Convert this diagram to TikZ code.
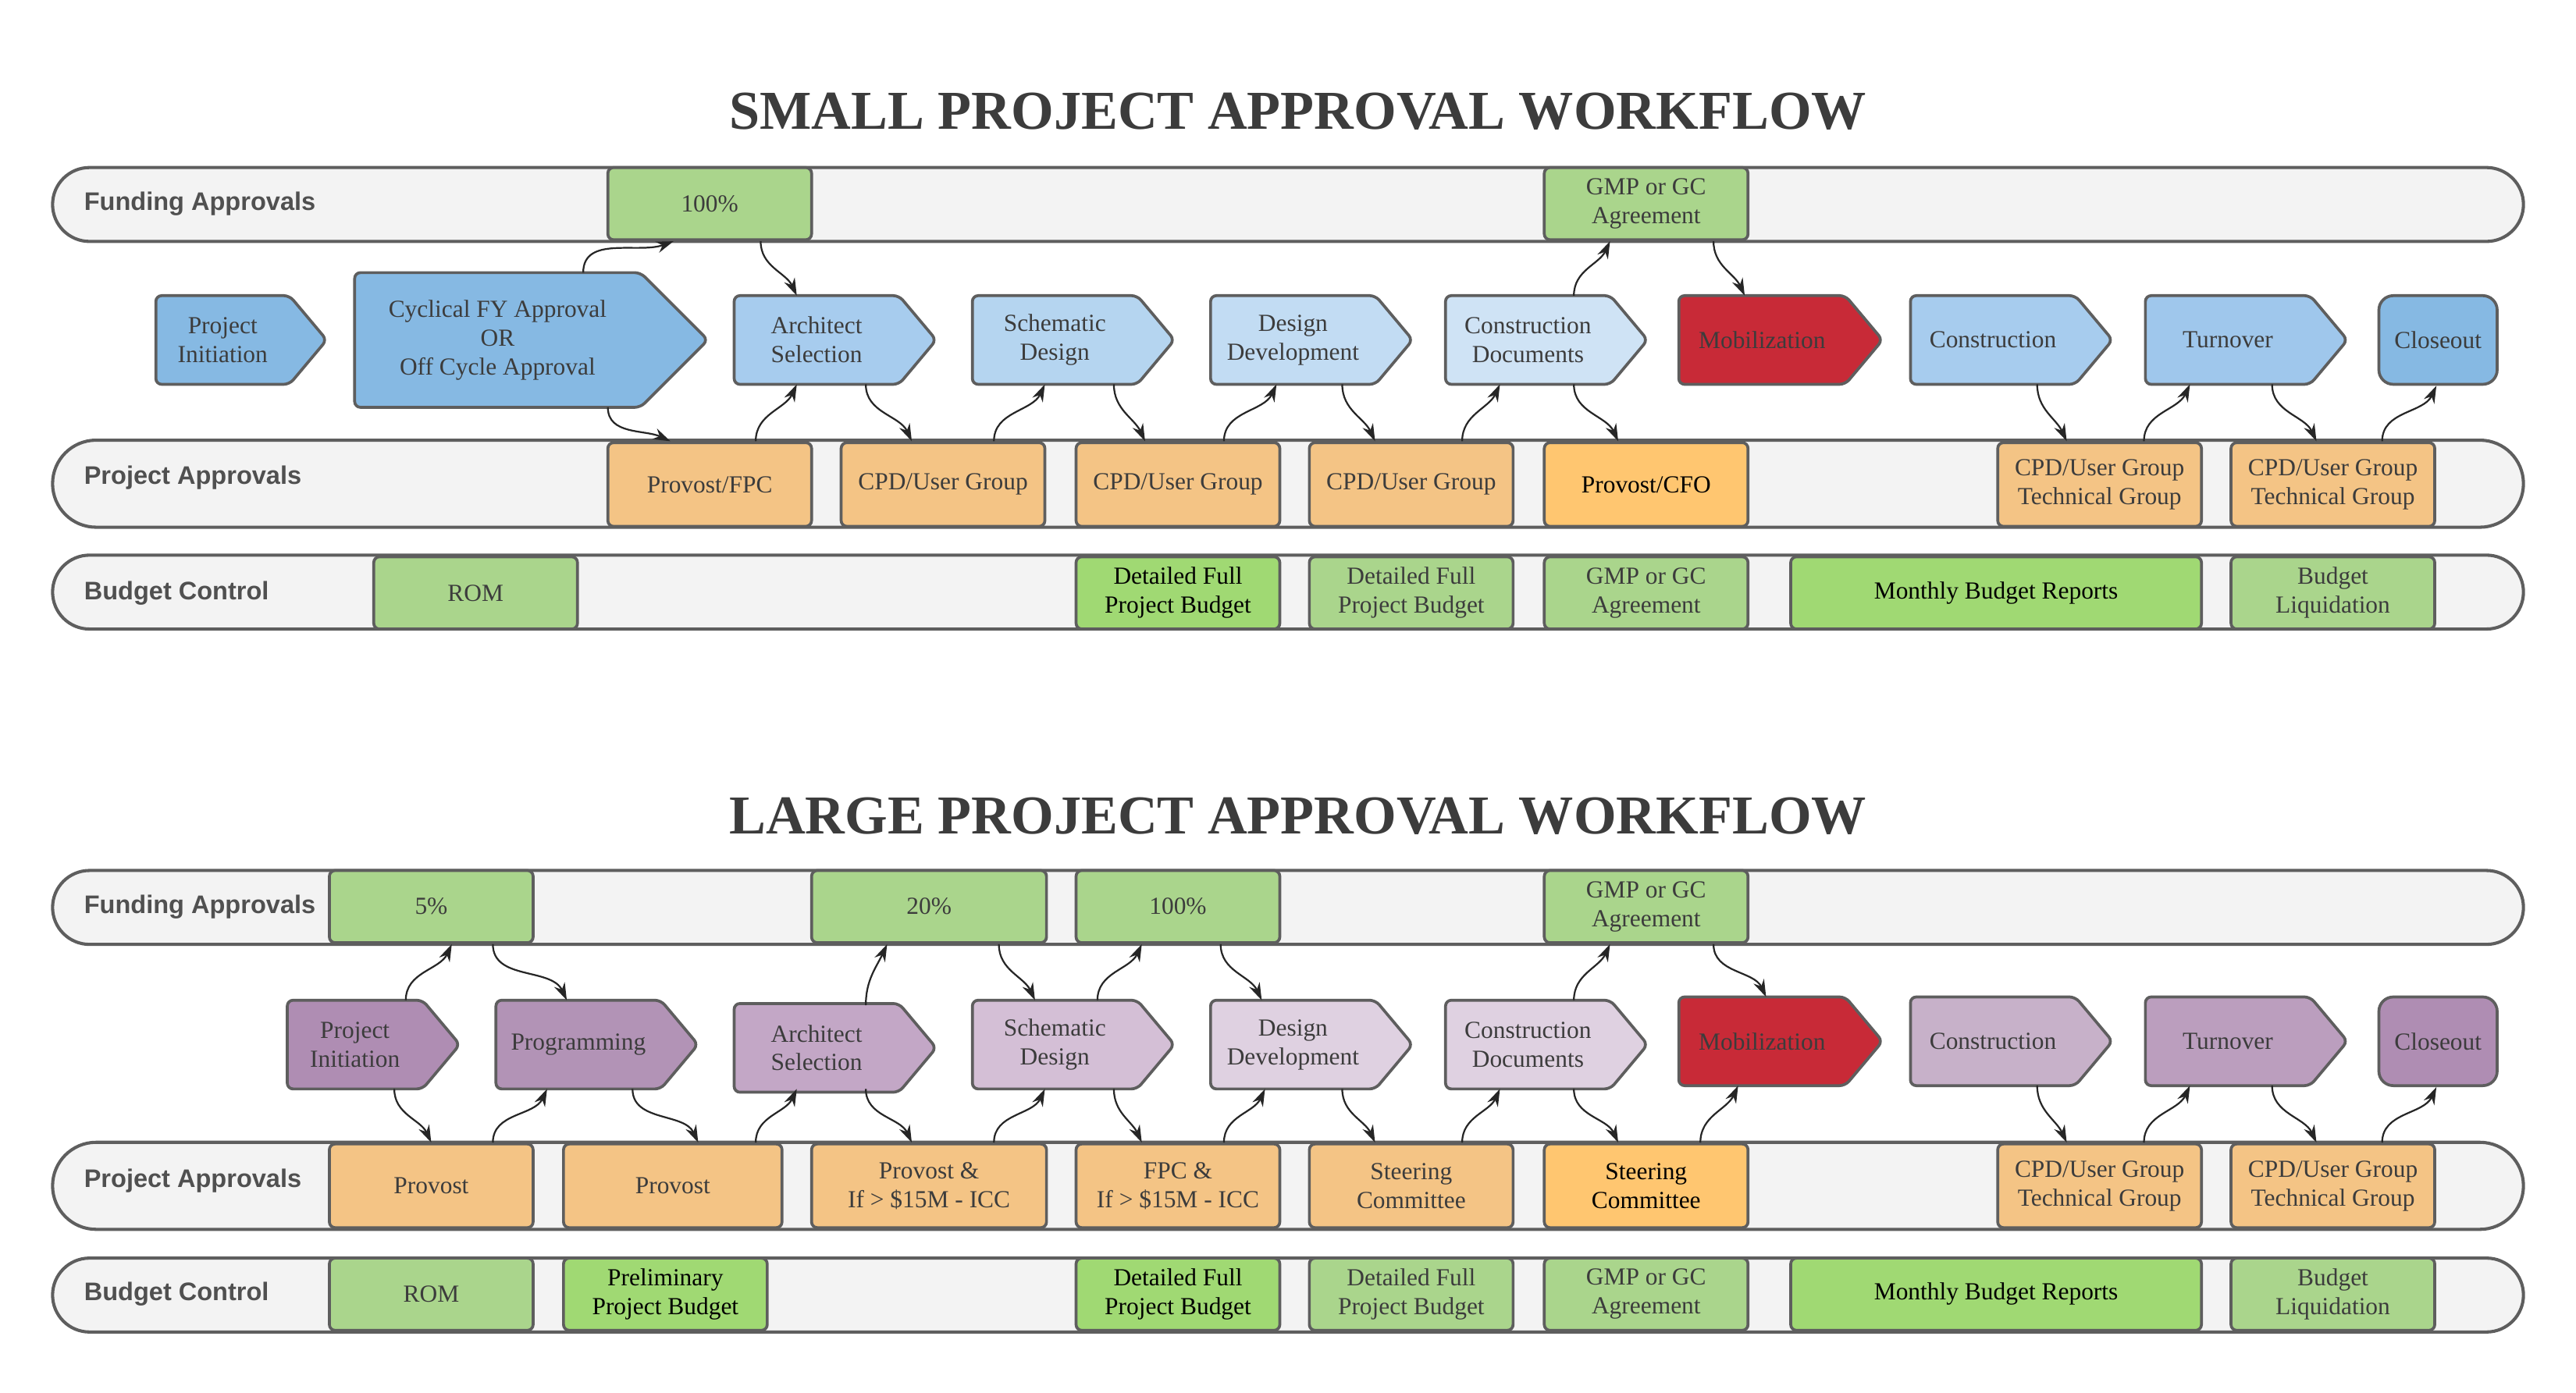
\documentclass[tikz,border=0pt]{standalone}
\usepackage{fontspec}
\setmainfont{Liberation Serif}
\setsansfont{Liberation Sans}
\usetikzlibrary{shapes.symbols,shapes.misc,calc,arrows.meta}
\definecolor{laneFill}{HTML}{F3F3F3}
\definecolor{edgeGray}{HTML}{5E5E5E}
\definecolor{txtGray}{HTML}{3C3C3C}
\definecolor{grnBox}{HTML}{AAD58C}
\definecolor{grnHot}{HTML}{A0D973}
\definecolor{orgBox}{HTML}{F4C485}
\definecolor{orgHot}{HTML}{FFC670}
\definecolor{redStep}{HTML}{C82A37}
\definecolor{blA}{HTML}{86B9E3}
\definecolor{blB}{HTML}{A7CCEE}
\definecolor{blC}{HTML}{B5D5F0}
\definecolor{blD}{HTML}{C2DCF3}
\definecolor{blE}{HTML}{CFE3F5}
\definecolor{blF}{HTML}{9FC7EC}
\definecolor{puA}{HTML}{AF8DB3}
\definecolor{puB}{HTML}{B293B6}
\definecolor{puC}{HTML}{C3A7C6}
\definecolor{puD}{HTML}{D4BFD6}
\definecolor{puE}{HTML}{DFD1E1}
\definecolor{puF}{HTML}{C7B1C9}
\definecolor{puG}{HTML}{BB9EBE}
\tikzset{lane/.style={rounded rectangle,draw=edgeGray,fill=laneFill,line width=1.1pt,minimum width=1504*0.02cm,inner sep=0pt}}
\tikzset{lanelbl/.style={anchor=west,font=\sffamily\bfseries\fontsize{8.8}{10}\selectfont,text=txtGray!90}}
\tikzset{box/.style={rectangle,rounded corners=2pt,draw=edgeGray,line width=1pt,minimum width=124*0.02cm,inner sep=1pt,align=center,font=\fontsize{8.5}{10}\selectfont,text=txtGray}}
\tikzset{fund/.style={box,fill=grnBox,minimum height=44*0.02cm}}
\tikzset{appr/.style={box,fill=orgBox,minimum height=51*0.02cm}}
\tikzset{budg/.style={box,fill=grnBox,minimum height=44*0.02cm}}
\tikzset{hot/.style={text=black}}
\tikzset{phase/.style={signal,signal to=east,signal pointer angle=100,anchor=west,draw=edgeGray,line width=1pt,rounded corners=2pt,minimum height=54*0.02cm,inner sep=1pt,align=center,font=\fontsize{8.5}{10}\selectfont,text=txtGray}}
\tikzset{endphase/.style={rectangle,rounded corners=5pt,draw=edgeGray,line width=1pt,minimum width=72*0.02cm,minimum height=54*0.02cm,inner sep=1pt,font=\fontsize{8.5}{10}\selectfont,text=txtGray}}
\tikzset{title/.style={font=\fontsize{19}{22}\selectfont\bfseries,text=txtGray}}
\tikzset{up/.style={-{Stealth[length=6pt,width=4pt]},semithick,black!85,out=90,in=-115}}
\tikzset{dn/.style={-{Stealth[length=6pt,width=4pt]},semithick,black!85,out=-90,in=115}}

\begin{document}
\begin{tikzpicture}[x=0.02cm,y=-0.02cm]
	\useasboundingbox (0,0) rectangle (1568,848);

	% small project workflow
	\node [title] (stitle) at (790,68) {SMALL PROJECT APPROVAL WORKFLOW};
	\node [lane,minimum height=45*0.02cm] (sfundlane) at (784,124.5) {};
	\node [lane,minimum height=53*0.02cm] (sapprlane) at (784,294.5) {};
	\node [lane,minimum height=45*0.02cm] (sbudglane) at (784,360.5) {};
	\node [lanelbl] (sfundlbl) at (45,124) {Funding Approvals};
	\node [lanelbl] (sapprlbl) at (45,291) {Project Approvals};
	\node [lanelbl] (sbudglbl) at (45,361) {Budget Control};

	\node [fund] (s100) at (432,124) {100\%};
	\node [fund] (sgmp) at (1002,124) {GMP or GC\\Agreement};

	\node [appr] (sprov) at (432,295) {Provost/FPC};
	\node [appr] (scpdA) at (574,295) {CPD/User Group};
	\node [appr] (scpdB) at (717,295) {CPD/User Group};
	\node [appr] (scpdC) at (859,295) {CPD/User Group};
	\node [appr,hot,fill=orgHot] (scfo) at (1002,295) {Provost/CFO};
	\node [appr] (stechA) at (1278,295) {CPD/User Group\\Technical Group};
	\node [appr] (stechB) at (1420,295) {CPD/User Group\\Technical Group};

	\node [budg] (srom) at (289.5,361) {ROM};
	\node [budg,hot,fill=grnHot] (sdetA) at (717,361) {Detailed Full\\Project Budget};
	\node [budg] (sdetB) at (859,361) {Detailed Full\\Project Budget};
	\node [budg] (sgmpb) at (1002,361) {GMP or GC\\Agreement};
	\node [budg,hot,fill=grnHot,minimum width=250*0.02cm] (smon) at (1215,361) {Monthly Budget Reports};
	\node [budg] (sliq) at (1420,361) {Budget\\Liquidation};

	\node [phase,fill=blA,minimum width=104*0.02cm] (sinit) at (94,207) {Project\\Initiation};
	\node [phase,fill=blA,minimum width=215*0.02cm,minimum height=82*0.02cm,signal pointer angle=90] (scyc) at (215,207) {Cyclical FY Approval\\OR\\Off Cycle Approval};
	\node [phase,fill=blB,minimum width=123*0.02cm] (sarch) at (446,207) {Architect\\Selection};
	\node [phase,fill=blC,minimum width=123*0.02cm] (sschem) at (591,207) {Schematic\\Design};
	\node [phase,fill=blD,minimum width=123*0.02cm] (sdd) at (736,207) {Design\\Development};
	\node [phase,fill=blE,minimum width=123*0.02cm] (scd) at (879,207) {Construction\\Documents};
	\node [phase,fill=redStep,minimum width=124*0.02cm] (smob) at (1021,207) {Mobilization};
	\node [phase,fill=blB,minimum width=123*0.02cm] (scon) at (1162,207) {Construction};
	\node [phase,fill=blF,minimum width=123*0.02cm] (sturn) at (1305,207) {Turnover};
	\node [endphase,fill=blA] (sclose) at (1484,207) {Closeout};

	\draw [up,in=200] ($(scyc.west)+(140,-41)$) to ($(s100.south)+(-22,0)$);
	\draw [dn] ($(s100.south)+(31,0)$) to ($(sarch.west)+(39,-27)$);
	\draw [dn,in=155] ($(scyc.west)+(155,41)$) to ($(sprov.north)+(-24,0)$);
	\draw [up] ($(sprov.north)+(28,0)$) to ($(sarch.west)+(39,27)$);
	\draw [dn] ($(sarch.west)+(81,27)$) to ($(scpdA.north)+(-19,0)$);
	\draw [up] ($(scpdA.north)+(31,0)$) to ($(sschem.west)+(45,27)$);
	\draw [dn] ($(sschem.west)+(87,27)$) to ($(scpdB.north)+(-20,0)$);
	\draw [up] ($(scpdB.north)+(28,0)$) to ($(sdd.west)+(41,27)$);
	\draw [dn] ($(sdd.west)+(81,27)$) to ($(scpdC.north)+(-22,0)$);
	\draw [up] ($(scpdC.north)+(31,0)$) to ($(scd.west)+(34,27)$);
	\draw [dn] ($(scd.west)+(79,27)$) to ($(scfo.north)+(-17,0)$);
	\draw [up] ($(scd.west)+(79,-27)$) to ($(sgmp.south)+(-22,0)$);
	\draw [dn] ($(sgmp.south)+(41,0)$) to ($(smob.west)+(41,-27)$);
	\draw [dn] ($(scon.west)+(78,27)$) to ($(stechA.north)+(-20,0)$);
	\draw [up] ($(stechA.north)+(27,0)$) to ($(sturn.west)+(28,27)$);
	\draw [dn] ($(sturn.west)+(78,27)$) to ($(stechB.north)+(-10,0)$);
	\draw [up] ($(stechB.north)+(30,0)$) to ($(sclose.south)+(-1,0)$);

	% large project workflow
	\node [title] (ltitle) at (790,497) {LARGE PROJECT APPROVAL WORKFLOW};
	\node [lane,minimum height=45*0.02cm] (lfundlane) at (784,552.5) {};
	\node [lane,minimum height=53*0.02cm] (lapprlane) at (784,722) {};
	\node [lane,minimum height=45*0.02cm] (lbudglane) at (784,788.5) {};
	\node [lanelbl] (lfundlbl) at (45,552) {Funding Approvals};
	\node [lanelbl] (lapprlbl) at (45,719) {Project Approvals};
	\node [lanelbl] (lbudglbl) at (45,788) {Budget Control};

	\node [fund] (l5) at (262.5,552) {5\%};
	\node [fund,minimum width=143*0.02cm] (l20) at (565.5,552) {20\%};
	\node [fund] (l100) at (717,552) {100\%};
	\node [fund] (lgmp) at (1002,552) {GMP or GC\\Agreement};

	\node [appr] (lprovA) at (262.5,722) {Provost};
	\node [appr,minimum width=133*0.02cm] (lprovB) at (409.5,722) {Provost};
	\node [appr,minimum width=143*0.02cm] (lpicc) at (565.5,722) {Provost \&\\If > \$15M - ICC};
	\node [appr] (lfpc) at (717,722) {FPC \&\\If > \$15M - ICC};
	\node [appr] (lsteerA) at (859,722) {Steering\\Committee};
	\node [appr,hot,fill=orgHot] (lsteerB) at (1002,722) {Steering\\Committee};
	\node [appr] (ltechA) at (1278,722) {CPD/User Group\\Technical Group};
	\node [appr] (ltechB) at (1420,722) {CPD/User Group\\Technical Group};

	\node [budg] (lrom) at (262.5,788) {ROM};
	\node [budg,hot,fill=grnHot] (lprel) at (405,788) {Preliminary\\Project Budget};
	\node [budg,hot,fill=grnHot] (ldetA) at (717,788) {Detailed Full\\Project Budget};
	\node [budg] (ldetB) at (859,788) {Detailed Full\\Project Budget};
	\node [budg] (lgmpb) at (1002,788) {GMP or GC\\Agreement};
	\node [budg,hot,fill=grnHot,minimum width=250*0.02cm] (lmon) at (1215,788) {Monthly Budget Reports};
	\node [budg] (lliq) at (1420,788) {Budget\\Liquidation};

	\node [phase,fill=puA,minimum width=105*0.02cm] (linit) at (174,636) {Project\\Initiation};
	\node [phase,fill=puB,minimum width=123*0.02cm] (lprog) at (301,636) {Programming};
	\node [phase,fill=puC,minimum width=123*0.02cm] (larch) at (446,638) {Architect\\Selection};
	\node [phase,fill=puD,minimum width=123*0.02cm] (lschem) at (591,636) {Schematic\\Design};
	\node [phase,fill=puE,minimum width=123*0.02cm] (ldd) at (736,636) {Design\\Development};
	\node [phase,fill=puE,minimum width=123*0.02cm] (lcd) at (879,636) {Construction\\Documents};
	\node [phase,fill=redStep,minimum width=124*0.02cm] (lmob) at (1021,634) {Mobilization};
	\node [phase,fill=puF,minimum width=123*0.02cm] (lcon) at (1162,634) {Construction};
	\node [phase,fill=puG,minimum width=123*0.02cm] (lturn) at (1305,634) {Turnover};
	\node [endphase,fill=puA] (lclose) at (1484,634) {Closeout};

	\draw [up] ($(linit.west)+(73,-27)$) to ($(l5.south)+(12.5,0)$);
	\draw [dn] ($(l5.south)+(37.5,0)$) to ($(lprog.west)+(44,-27)$);
	\draw [dn] ($(linit.west)+(66,27)$) to ($(lprovA.north)+(0,0)$);
	\draw [up] ($(lprovA.north)+(37.5,0)$) to ($(lprog.west)+(32,27)$);
	\draw [dn] ($(lprog.west)+(84,27)$) to ($(lprovB.north)+(15.5,0)$);
	\draw [up] ($(lprovB.north)+(50.5,0)$) to ($(larch.west)+(39,25)$);
	\draw [up] ($(larch.west)+(81,-26)$) to ($(l20.south)+(-25.5,0)$);
	\draw [dn] ($(l20.south)+(42.5,0)$) to ($(lschem.west)+(39,-27)$);
	\draw [dn] ($(larch.west)+(81,25)$) to ($(lpicc.north)+(-10.5,0)$);
	\draw [up] ($(lpicc.north)+(39.5,0)$) to ($(lschem.west)+(45,27)$);
	\draw [up] ($(lschem.west)+(77,-27)$) to ($(l100.south)+(-22,0)$);
	\draw [dn] ($(l100.south)+(26,0)$) to ($(ldd.west)+(32,-27)$);
	\draw [dn] ($(lschem.west)+(87,27)$) to ($(lfpc.north)+(-22,0)$);
	\draw [up] ($(lfpc.north)+(28,0)$) to ($(ldd.west)+(34,27)$);
	\draw [dn] ($(ldd.west)+(81,27)$) to ($(lsteerA.north)+(-22,0)$);
	\draw [up] ($(lsteerA.north)+(31,0)$) to ($(lcd.west)+(34,27)$);
	\draw [dn] ($(lcd.west)+(79,27)$) to ($(lsteerB.north)+(-17,0)$);
	\draw [up] ($(lcd.west)+(79,-27)$) to ($(lgmp.south)+(-22,0)$);
	\draw [dn] ($(lgmp.south)+(41,0)$) to ($(lmob.west)+(54,-27)$);
	\draw [up] ($(lsteerB.north)+(33,0)$) to ($(lmob.west)+(37,27)$);
	\draw [dn] ($(lcon.west)+(78,27)$) to ($(ltechA.north)+(-20,0)$);
	\draw [up] ($(ltechA.north)+(27,0)$) to ($(lturn.west)+(28,27)$);
	\draw [dn] ($(lturn.west)+(78,27)$) to ($(ltechB.north)+(-10,0)$);
	\draw [up] ($(ltechB.north)+(30,0)$) to ($(lclose.south)+(-1,0)$);
\end{tikzpicture}
\end{document}
